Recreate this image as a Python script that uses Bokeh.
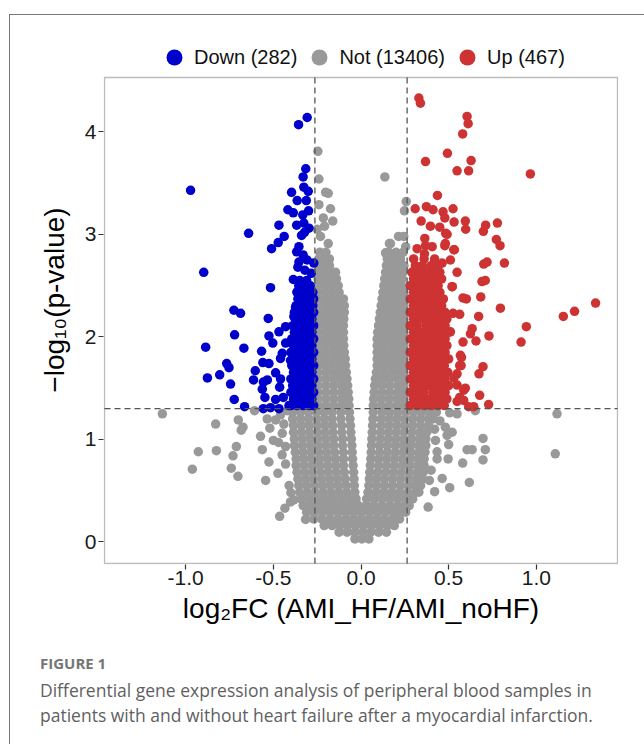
from bokeh.plotting import figure
from bokeh.layouts import column
from bokeh.models import (Range1d, FixedTicker, NumeralTickFormatter, Legend,
                          LegendItem, BoxAnnotation, Div)
from bokeh.embed import file_html
from bokeh.resources import INLINE

# ---------------- data ----------------
fc_cut = 0.263          # |log2FC| threshold
p_cut = 1.301           # -log10(0.05)
x_lim = (-1.463, 1.463)  # panel limits (symmetric, as in the reference)
y_lim = (-0.21, 4.53)
x_ticks = [-1.0, -0.5, 0.0, 0.5, 1.0]
y_ticks = [0, 1, 2, 3, 4]
legend_labels = ["Down (282)", "Not (13406)", "Up (467)"]
x_title = "log\u2082FC (AMI_HF/AMI_noHF)"
y_title = "\u2212log\u2081\u2080(p-value)"
caption_head = "FIGURE 1"
caption_lines = ["Differential gene expression analysis of peripheral blood samples in",
                 "patients with and without heart failure after a myocardial infarction."]

# dense (overplotted) part of the "Not" cloud, one list of log2FC per -log10(p) row
gray_row_y = [0.03, 0.095, 0.16, 0.225, 0.29, 0.355, 0.42, 0.485, 0.55, 0.615, 0.68, 0.745,
              0.81, 0.875, 0.94, 1.005, 1.07, 1.135, 1.2, 1.265, 1.33, 1.395, 1.46, 1.525,
              1.59, 1.655, 1.72, 1.785, 1.85, 1.915, 1.98, 2.045, 2.11, 2.175, 2.24, 2.305,
              2.37, 2.435, 2.5, 2.565, 2.63, 2.695, 2.76, 2.825]
gray_row_x = [
    [-0.035, 0.005, 0.045],
    [-0.125, -0.08, -0.035, 0.01, 0.055, 0.10, 0.145],
    [-0.21, -0.165, -0.12, -0.075, -0.03, 0.015, 0.06, 0.105, 0.15, 0.19],
    [-0.27, -0.225, -0.18, -0.135, -0.09, -0.045, 0.0, 0.045, 0.09, 0.135, 0.18, 0.22],
    [-0.31, -0.265, -0.22, -0.175, -0.13, -0.085, -0.04, 0.005, 0.05, 0.095, 0.14, 0.185, 0.23, 0.255],
    [-0.33, -0.285, -0.24, -0.195, -0.15, -0.105, -0.06, -0.015, 0.03, 0.075, 0.12, 0.165, 0.21, 0.25, 0.275],
    [-0.34, -0.295, -0.25, -0.205, -0.16, -0.115, -0.07, -0.028, 0.032, 0.075, 0.12, 0.165, 0.21, 0.255, 0.295],
    [-0.35, -0.305, -0.26, -0.215, -0.17, -0.125, -0.08, -0.035, 0.04, 0.085, 0.13, 0.175, 0.22, 0.265, 0.31, 0.33],
    [-0.355, -0.31, -0.265, -0.22, -0.175, -0.13, -0.085, -0.038, 0.045, 0.09, 0.135, 0.18, 0.225, 0.27, 0.31, 0.34],
    [-0.36, -0.315, -0.27, -0.225, -0.18, -0.135, -0.09, -0.04, 0.048, 0.09, 0.135, 0.18, 0.225, 0.27, 0.315, 0.35],
    [-0.365, -0.32, -0.275, -0.23, -0.185, -0.14, -0.095, -0.042, 0.05, 0.095, 0.14, 0.185, 0.23, 0.275, 0.32, 0.355],
    [-0.37, -0.325, -0.28, -0.235, -0.19, -0.145, -0.10, -0.045, 0.053, 0.10, 0.145, 0.19, 0.235, 0.28, 0.325, 0.36],
    [-0.37, -0.325, -0.28, -0.235, -0.19, -0.145, -0.10, -0.048, 0.056, 0.10, 0.145, 0.19, 0.235, 0.28, 0.325, 0.36],
    [-0.375, -0.33, -0.285, -0.24, -0.195, -0.15, -0.10, -0.05, 0.058, 0.105, 0.15, 0.195, 0.24, 0.285, 0.33, 0.365],
    [-0.38, -0.335, -0.29, -0.245, -0.20, -0.155, -0.105, -0.052, 0.06, 0.105, 0.15, 0.195, 0.24, 0.285, 0.33, 0.37],
    [-0.38, -0.335, -0.29, -0.245, -0.20, -0.155, -0.105, -0.055, 0.062, 0.11, 0.155, 0.20, 0.245, 0.29, 0.335, 0.37],
    [-0.385, -0.34, -0.295, -0.25, -0.205, -0.16, -0.11, -0.058, 0.064, 0.11, 0.155, 0.20, 0.245, 0.29, 0.335, 0.375],
    [-0.385, -0.34, -0.295, -0.25, -0.205, -0.16, -0.11, -0.06, 0.066, 0.115, 0.16, 0.205, 0.25, 0.295, 0.34, 0.385],
    [-0.39, -0.345, -0.30, -0.255, -0.21, -0.165, -0.115, -0.063, 0.068, 0.115, 0.16, 0.205, 0.25, 0.295, 0.34, 0.385, 0.41],
    [-0.39, -0.345, -0.30, -0.255, -0.21, -0.165, -0.115, -0.066, 0.07, 0.12, 0.165, 0.21, 0.255, 0.30, 0.345, 0.39, 0.43],
    [-0.245, -0.20, -0.155, -0.11, -0.068, 0.07, 0.115, 0.16, 0.205, 0.245],
    [-0.245, -0.20, -0.155, -0.11, -0.07, 0.072, 0.115, 0.16, 0.205, 0.245],
    [-0.245, -0.20, -0.155, -0.11, -0.073, 0.075, 0.12, 0.165, 0.21, 0.245],
    [-0.245, -0.20, -0.155, -0.112, -0.076, 0.078, 0.12, 0.165, 0.21, 0.245],
    [-0.245, -0.20, -0.155, -0.115, -0.08, 0.082, 0.125, 0.165, 0.21, 0.245],
    [-0.245, -0.20, -0.16, -0.12, -0.084, 0.088, 0.13, 0.17, 0.21, 0.245],
    [-0.245, -0.205, -0.165, -0.125, -0.088, 0.092, 0.13, 0.17, 0.21, 0.245],
    [-0.245, -0.205, -0.165, -0.125, -0.09, 0.092, 0.13, 0.17, 0.21, 0.245],
    [-0.245, -0.205, -0.165, -0.13, -0.095, 0.092, 0.13, 0.17, 0.21, 0.245],
    [-0.245, -0.205, -0.165, -0.13, -0.098, 0.092, 0.13, 0.17, 0.21, 0.245],
    [-0.245, -0.205, -0.165, -0.13, -0.10, 0.092, 0.13, 0.17, 0.21, 0.245],
    [-0.245, -0.205, -0.17, -0.135, -0.10, 0.095, 0.135, 0.175, 0.21, 0.245],
    [-0.245, -0.205, -0.17, -0.135, -0.10, 0.10, 0.14, 0.175, 0.21, 0.245],
    [-0.245, -0.205, -0.17, -0.135, -0.098, 0.105, 0.14, 0.175, 0.21, 0.245],
    [-0.245, -0.205, -0.17, -0.13, -0.095, 0.11, 0.145, 0.18, 0.215, 0.245],
    [-0.245, -0.205, -0.165, -0.13, -0.095, 0.115, 0.15, 0.185, 0.215, 0.245],
    [-0.245, -0.205, -0.165, -0.125, -0.10, 0.12, 0.155, 0.19, 0.22, 0.245],
    [-0.245, -0.205, -0.165, -0.125, 0.125, 0.16, 0.19, 0.22, 0.245],
    [-0.245, -0.205, -0.165, -0.13, 0.13, 0.165, 0.20, 0.23],
    [-0.245, -0.205, -0.17, -0.14, 0.135, 0.17, 0.205, 0.235],
    [-0.245, -0.21, -0.175, -0.145, 0.14, 0.175, 0.21, 0.24],
    [-0.245, -0.21, -0.18, 0.145, 0.18, 0.215, 0.245],
    [-0.24, -0.205, -0.18, 0.15, 0.19, 0.225],
    [-0.235, -0.20, 0.16, 0.20, 0.24],
]
# scattered "Not" genes
gray_x = [-1.133, -0.829, -0.70, -0.673, -0.683, -0.711, -0.928, -0.825, -0.73, -0.962, -0.74,
          -0.702, -0.573, -0.563, -0.544, -0.607, -0.52, -0.50, -0.525, -0.474, -0.449, -0.43,
          -0.43, -0.383, -0.402, -0.434, -0.464, -0.316, -0.487, -0.459, -0.535, -0.45, -0.47,
          -0.41, -0.40, -0.44, -0.42,
          1.118, 1.108, 0.506, 0.548, 0.652, 0.481, 0.52, 0.491, 0.696, 0.425, 0.50, 0.605,
          0.634, 0.709, 0.434, 0.497, 0.58, 0.696, 0.434, 0.463, 0.618, 0.506, 0.42, 0.383,
          0.45, 0.42, 0.40, 0.39,
          -0.246, -0.24, -0.202, -0.187, -0.24, -0.174, -0.215, -0.161, -0.208, -0.25, -0.231,
          -0.187, 0.136, 0.258, 0.248, 0.214, 0.162, 0.14, 0.244, 0.255, 0.168, 0.145]
gray_y = [1.25, 1.15, 1.19, 1.12, 1.09, 0.93, 0.88, 0.89, 0.84, 0.71, 0.72,
          0.64, 1.03, 0.90, 0.60, 1.28, 1.11, 0.99, 0.78, 0.67, 1.06, 0.93,
          0.76, 0.41, 0.39, 0.33, 0.25, 0.22, 1.19, 1.24, 1.20, 0.85, 0.97,
          0.55, 0.48, 1.15, 1.28,
          1.25, 0.86, 1.26, 1.25, 1.28, 1.12, 1.07, 1.04, 1.01, 0.99, 0.95, 0.90,
          0.90, 0.90, 0.88, 0.81, 0.77, 0.80, 0.81, 0.62, 0.58, 0.53, 0.49, 0.34,
          1.18, 1.10, 0.70, 0.60,
          3.81, 3.54, 3.41, 3.40, 3.29, 3.25, 3.16, 3.13, 3.08, 3.05, 2.98,
          2.91, 3.56, 3.32, 3.23, 2.98, 2.91, 2.82, 2.98, 2.88, 2.91, 2.81]

# dense part of the "Down" genes
blue_row_y = [1.33, 1.395, 1.46, 1.525, 1.59, 1.655, 1.72, 1.785, 1.85, 1.915, 1.98, 2.045,
              2.11, 2.175, 2.24, 2.305, 2.37, 2.435, 2.5]
blue_row_x = [
    [-0.40, -0.365, -0.33, -0.295, -0.27],
    [-0.385, -0.35, -0.315, -0.28],
    [-0.40, -0.365, -0.33, -0.295, -0.27],
    [-0.39, -0.35, -0.315, -0.28],
    [-0.40, -0.365, -0.33, -0.295, -0.27],
    [-0.385, -0.345, -0.31, -0.28],
    [-0.395, -0.36, -0.33, -0.295, -0.27],
    [-0.385, -0.35, -0.315, -0.28],
    [-0.40, -0.365, -0.33, -0.295, -0.27],
    [-0.385, -0.35, -0.315, -0.28],
    [-0.395, -0.36, -0.325, -0.295, -0.27],
    [-0.38, -0.345, -0.31, -0.28],
    [-0.39, -0.355, -0.325, -0.295, -0.27],
    [-0.375, -0.345, -0.31, -0.28],
    [-0.38, -0.35, -0.32, -0.29, -0.27],
    [-0.37, -0.34, -0.305, -0.275],
    [-0.36, -0.33, -0.30, -0.27],
    [-0.365, -0.335, -0.30, -0.275],
    [-0.355, -0.32, -0.29],
]
blue_x = [-0.307, -0.356, -0.972, -0.315, -0.33, -0.326, -0.301, -0.396, -0.364, -0.312, -0.417,
          -0.386, -0.332, -0.299, -0.468, -0.367, -0.326, -0.297, -0.339, -0.322, -0.641, -0.438,
          -0.472, -0.51, -0.354, -0.367, -0.33, -0.307, -0.354, -0.269, -0.36, -0.32, -0.284,
          -0.897, -0.386, -0.349, -0.31, -0.516, -0.364, -0.326, -0.288, -0.345, -0.307, -0.373,
          -0.335, -0.297, -0.725, -0.687, -0.529, -0.383,
          -0.43, -0.468, -0.721, -0.525, -0.886, -0.668, -0.503, -0.43, -0.402, -0.567, -0.449,
          -0.766, -0.753, -0.56, -0.525, -0.459, -0.402, -0.603, -0.806, -0.876, -0.744, -0.613,
          -0.557, -0.534, -0.487, -0.459, -0.563, -0.464, -0.548, -0.723, -0.487, -0.443, -0.664,
          -0.557, -0.516, -0.468, -0.411]
blue_y = [4.14, 4.07, 3.43, 3.64, 3.56, 3.46, 3.42, 3.41, 3.33, 3.33, 3.24,
          3.21, 3.19, 3.23, 3.09, 3.09, 3.11, 3.06, 2.99, 3.02, 3.01, 2.98,
          2.92, 2.86, 2.88, 2.83, 2.80, 2.75, 2.73, 2.72, 2.68, 2.65, 2.62,
          2.63, 2.56, 2.55, 2.55, 2.48, 2.44, 2.46, 2.42, 2.37, 2.36, 2.29,
          2.29, 2.26, 2.26, 2.23, 2.18, 2.20,
          2.10, 2.05, 2.02, 2.01, 1.90, 1.89, 1.94, 1.94, 1.95, 1.86, 1.84,
          1.74, 1.70, 1.75, 1.74, 1.79, 1.77, 1.67, 1.63, 1.60, 1.54, 1.58,
          1.56, 1.58, 1.65, 1.59, 1.49, 1.51, 1.41, 1.39, 1.39, 1.41, 1.32,
          1.30, 1.31, 1.30, 1.33]

# dense part of the "Up" genes
red_row_y = [1.33, 1.395, 1.46, 1.525, 1.59, 1.655, 1.72, 1.785, 1.85, 1.915, 1.98, 2.045,
             2.11, 2.175, 2.24, 2.305, 2.37, 2.435, 2.5, 2.565, 2.63, 2.695, 2.76]
red_row_x = [
    [0.28, 0.32, 0.36, 0.40, 0.44, 0.475],
    [0.30, 0.34, 0.38, 0.42, 0.46, 0.49],
    [0.28, 0.32, 0.36, 0.41, 0.44, 0.48],
    [0.30, 0.34, 0.38, 0.42, 0.46, 0.50],
    [0.28, 0.32, 0.36, 0.40, 0.44, 0.48],
    [0.30, 0.34, 0.38, 0.42, 0.46, 0.495],
    [0.28, 0.32, 0.36, 0.40, 0.44, 0.475],
    [0.30, 0.34, 0.38, 0.42, 0.46, 0.50],
    [0.28, 0.32, 0.36, 0.40, 0.44, 0.48],
    [0.30, 0.34, 0.38, 0.42, 0.46, 0.49],
    [0.28, 0.32, 0.36, 0.40, 0.44, 0.48],
    [0.30, 0.34, 0.38, 0.42, 0.46, 0.50],
    [0.28, 0.32, 0.37, 0.40, 0.44, 0.48],
    [0.30, 0.34, 0.38, 0.42, 0.46, 0.49],
    [0.28, 0.32, 0.36, 0.40, 0.44, 0.48],
    [0.30, 0.34, 0.38, 0.42, 0.46],
    [0.28, 0.32, 0.36, 0.40, 0.44, 0.47],
    [0.30, 0.34, 0.38, 0.42, 0.45],
    [0.28, 0.32, 0.36, 0.40, 0.44],
    [0.30, 0.34, 0.38, 0.42, 0.46],
    [0.29, 0.33, 0.37, 0.41, 0.45],
    [0.31, 0.35, 0.40, 0.44],
    [0.30, 0.36, 0.42],
]
red_x = [0.33, 0.339, 0.605, 0.611, 0.58, 0.493, 0.368, 0.628, 0.548, 0.614, 0.966, 0.436,
         0.309, 0.373, 0.411, 0.468, 0.525, 0.343, 0.396, 0.449, 0.478, 0.531, 0.595, 0.597,
         0.711, 0.698, 0.778, 0.483, 0.491, 0.364, 0.772, 0.793, 0.32, 0.368, 0.406, 0.478,
         0.529, 0.362, 0.42, 0.463, 0.719, 0.70, 0.818, 0.548, 0.69, 0.709, 0.52, 0.683,
         0.582, 0.601, 0.795, 0.671, 1.338, 1.218, 1.154,
         0.943, 0.913, 0.73, 0.624, 0.634, 0.582, 0.656, 0.567, 0.571, 0.696, 0.673, 0.548,
         0.595, 0.677, 0.728, 0.563, 0.586, 0.614, 0.643, 0.525, 0.563, 0.51, 0.533, 0.481,
         0.573, 0.563, 0.548, 0.586, 0.548, 0.52, 0.51, 0.53]
red_y = [4.33, 4.28, 4.15, 4.08, 3.98, 3.79, 3.71, 3.72, 3.62, 3.62, 3.59, 3.38,
         3.25, 3.27, 3.24, 3.22, 3.25, 3.13, 3.08, 3.07, 3.16, 3.12, 3.13, 3.05,
         3.09, 3.03, 3.11, 3.01, 3.00, 2.96, 2.95, 2.89, 2.86, 2.89, 2.88, 2.89,
         2.85, 2.81, 2.73, 2.72, 2.73, 2.71, 2.72, 2.63, 2.54, 2.55, 2.49, 2.39,
         2.38, 2.37, 2.28, 2.20, 2.33, 2.25, 2.20,
         2.10, 1.95, 2.01, 2.03, 2.08, 1.95, 1.96, 1.82, 1.72, 1.71, 1.64, 1.53,
         1.50, 1.43, 1.34, 1.41, 1.38, 1.32, 1.32, 2.23, 2.22, 2.75, 2.85, 2.91,
         1.80, 1.72, 1.64, 1.48, 1.37, 2.49, 2.05, 1.60]


def flatten(row_y, row_x, extra_x, extra_y):
    xs, ys = [], []
    for yv, xr in zip(row_y, row_x):
        for xv in xr:
            xs.append(xv)
            ys.append(yv)
    return xs + list(extra_x), ys + list(extra_y)


gx, gy = flatten(gray_row_y, gray_row_x, gray_x, gray_y)
bx, by = flatten(blue_row_y, blue_row_x, blue_x, blue_y)
rx, ry = flatten(red_row_y, red_row_x, red_x, red_y)

# ---------------- main figure ----------------
# The page frame (thin grey line on the left and top) comes from the layout's CSS,
# so the canvas starts at page pixel (10, 15).
# The data frame is 1 px larger than the panel on left/right/bottom and extends above the
# panel to hold the legend strip (annotations are clipped to the frame).
SANS = "Liberation Sans"
PX_X = 513 / (x_lim[1] - x_lim[0])     # px per x unit
PX_Y = 486 / (y_lim[1] - y_lim[0])     # px per y unit
legend_strip = 42                      # px between frame top and panel top
p = figure(width=634, height=625, output_backend="svg", toolbar_location=None,
           x_range=Range1d(x_lim[0] - 1 / PX_X, x_lim[1] + 1 / PX_X),
           y_range=Range1d(y_lim[0] - 1 / PX_Y, y_lim[1] + legend_strip / PX_Y),
           min_border_left=93, min_border_right=26, min_border_top=20, min_border_bottom=76)
p.xgrid.visible = False
p.ygrid.visible = False
p.outline_line_color = None
p.background_fill_color = "white"
p.border_fill_color = "white"

dot = 9.5
r_gray = p.scatter(gx, gy, size=dot, fill_color="#999999", line_color=None)
r_blue = p.scatter(bx, by, size=dot, fill_color="#0000CD", line_color=None)
r_red = p.scatter(rx, ry, size=dot, fill_color="#CD3333", line_color=None)

# threshold lines
p.segment(x0=[-fc_cut, fc_cut], y0=[y_lim[0]] * 2, x1=[-fc_cut, fc_cut], y1=[y_lim[1]] * 2,
          line_color="#555555", line_width=1.3, line_dash="6 4")
p.segment(x0=[x_lim[0]], y0=[p_cut], x1=[x_lim[1]], y1=[p_cut],
          line_color="#555555", line_width=1.3, line_dash="6 4")

# panel border
p.add_layout(BoxAnnotation(left=x_lim[0], right=x_lim[1], bottom=y_lim[0], top=y_lim[1],
                           fill_alpha=0, line_color="#222222", line_width=1.4))

for ax in (p.xaxis[0], p.yaxis[0]):
    ax.axis_line_color = None
    ax.major_tick_in = 0
    ax.major_tick_out = 5
    ax.major_tick_line_color = "#333333"
    ax.major_tick_line_width = 1.2
    ax.minor_tick_line_color = None
    ax.major_label_text_font = SANS
    ax.major_label_text_font_size = "21px"
    ax.major_label_text_color = "#1a1a1a"
    ax.axis_label_text_font = SANS
    ax.axis_label_text_font_size = "28px"
    ax.axis_label_text_font_style = "normal"
    ax.axis_label_text_color = "#000000"

p.xaxis.ticker = FixedTicker(ticks=x_ticks)
p.xaxis.formatter = NumeralTickFormatter(format="0.0")
p.xaxis.major_label_standoff = 1
p.xaxis.axis_label = x_title
p.xaxis.axis_label_standoff = 5
p.yaxis.ticker = FixedTicker(ticks=y_ticks)
p.yaxis.major_label_standoff = 2
p.yaxis.axis_label = y_title
p.yaxis.axis_label_standoff = 12

legend = Legend(items=[LegendItem(label=legend_labels[0], renderers=[r_blue]),
                       LegendItem(label=legend_labels[1], renderers=[r_gray]),
                       LegendItem(label=legend_labels[2], renderers=[r_red])],
                orientation="horizontal", location=(51, 487), glyph_width=40, glyph_height=40,
                label_standoff=0, spacing=2, padding=0, margin=0, border_line_color=None,
                background_fill_alpha=0, label_text_font=SANS, label_text_font_size="20px",
                label_text_color="#111111")
p.add_layout(legend)

# ---------------- caption strip (page y 640..744) ----------------
def cap_line(text, top, size, lh, weight, color):
    return ('<div style="position:absolute;left:30px;top:%dpx;font-size:%s;line-height:%dpx;'
            'font-weight:%s;color:%s;white-space:nowrap;">%s</div>'
            % (top, size, lh, weight, color, text))


cap_html = ('<div style="position:relative;width:634px;height:104px;'
            'font-family:\'Open Sans\',sans-serif;">'
            + cap_line(caption_head, 14, "15px", 18, "bold", "#757575")
            + cap_line(caption_lines[0], 40, "17.5px", 21, "normal", "#5f5f5f")
            + cap_line(caption_lines[1], 65, "17.5px", 21, "normal", "#5f5f5f")
            + '</div>')
cap = Div(text=cap_html, width=634, height=104, margin=(0, 0, 0, 0))

page = column(p, cap, spacing=0)
page.styles = {"margin-left": "9px", "margin-top": "14px",
               "border-left": "1px solid #777777", "border-top": "1px solid #777777"}

open("out.html", "w").write(file_html(page, INLINE))
